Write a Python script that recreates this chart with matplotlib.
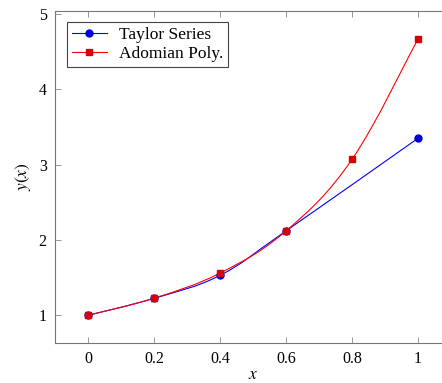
import matplotlib

matplotlib.use("Agg")
import matplotlib.pyplot as plt
import numpy as np
from matplotlib.path import Path
from matplotlib.patches import PathPatch

# data
taylor_x = [0.0, 0.2, 0.4, 0.6, 1.0]
taylor_y = [1.0, 1.225, 1.53, 2.12, 3.35]
adomian_x = [0.0, 0.2, 0.4, 0.6, 0.8, 1.0]
adomian_y = [1.0, 1.227, 1.56, 2.12, 3.07, 4.67]
x_ticks = [0, 0.2, 0.4, 0.6, 0.8, 1]
x_tick_labels = ["0", "0.2", "0.4", "0.6", "0.8", "1"]
y_ticks = [1, 2, 3, 4, 5]

plt.rcParams["font.family"] = ["Liberation Serif", "DejaVu Serif"]
plt.rcParams["mathtext.fontset"] = "stix"


def smooth_path(xs, ys, tension=0.55):
    """TikZ-like smooth curve through the points (cubic Bezier segments)."""
    p = np.column_stack([xs, ys]).astype(float)
    n = len(p)
    k = tension / 3.0
    verts = [p[0]]
    codes = [Path.MOVETO]
    for i in range(n - 1):
        prev = p[i - 1] if i > 0 else p[i]
        nxt = p[i + 2] if i + 2 < n else p[i + 1]
        c1 = p[i] + k * (p[i + 1] - prev)
        c2 = p[i + 1] - k * (nxt - p[i])
        verts += [c1, c2, p[i + 1]]
        codes += [Path.CURVE4] * 3
    return Path(verts, codes)


fig = plt.figure(figsize=(4.42, 3.83), dpi=100)
ax = fig.add_axes([55 / 442, 40 / 383, 396 / 442, 332 / 383])

series = [
    (taylor_x, taylor_y, "blue", "#0000d8", "o", "Taylor Series"),
    (adomian_x, adomian_y, "red", "#d80000", "s", "Adomian Poly."),
]
for xs, ys, lc, mc, mk, label in series:
    ax.add_patch(PathPatch(smooth_path(xs, ys), facecolor="none", edgecolor=lc, lw=0.8, zorder=2))
    ax.plot(xs, ys, linestyle="none", marker=mk, ms=5, color=mc, mec=mc, zorder=3)
    # legend proxy
    ax.plot([], [], color=lc, lw=0.8, marker=mk, ms=5, mfc=mc, mec=mc, label=label)

ax.set_xlim(-0.1, 1.1)
ax.set_ylim(0.632, 5.04)
ax.set_xticks(x_ticks)
ax.set_xticklabels(x_tick_labels)
ax.set_yticks(y_ticks)
ax.tick_params(direction="in", top=True, right=True, length=4, width=0.6,
               color="#888888", labelsize=11.5, pad=6)
for s in ax.spines.values():
    s.set_color("#777777")
    s.set_linewidth(0.8)

ax.set_xlabel("$x$", fontsize=12.5, labelpad=0)
ax.set_ylabel("$y(x)$", fontsize=12.5, labelpad=4)

leg = ax.legend(loc="upper left", bbox_to_anchor=(0.03, 0.967), borderaxespad=0,
                fontsize=12.5, handlelength=2.0, handletextpad=0.7, borderpad=0.3,
                labelspacing=0.15, fancybox=False, framealpha=1)
leg.get_frame().set_edgecolor("#444444")
leg.get_frame().set_linewidth(0.8)

fig.savefig("out.png", dpi=100)
